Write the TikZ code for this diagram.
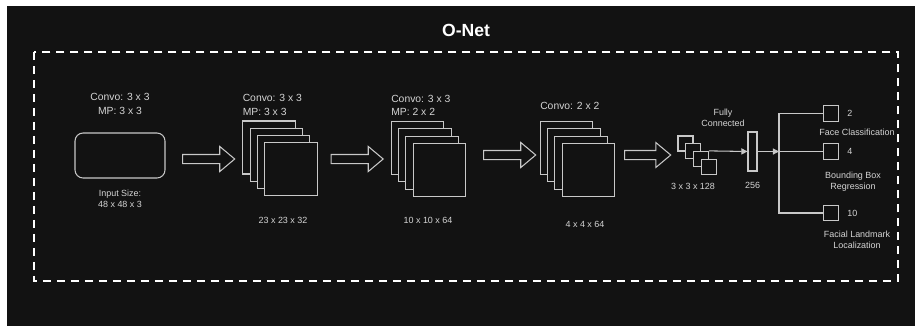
\documentclass[tikz,border=0pt]{standalone}
\usepackage{fontspec}
\setmainfont{Liberation Sans}
\usetikzlibrary{positioning,shapes.arrows,arrows.meta,calc}
\definecolor{bgdark}{HTML}{121212}
\definecolor{edge}{HTML}{C8C8C8}
\definecolor{txt}{HTML}{D4D4D4}

\begin{document}
\begin{tikzpicture}[x=0.02cm,y=-0.02cm,line width=0.6pt,
  fmap/.style={rectangle,draw=edge,fill=bgdark,minimum width=1.05cm,minimum height=1.06cm,inner sep=0pt},
  fcmap/.style={rectangle,draw=edge,fill=bgdark,minimum size=0.3cm,inner sep=0pt},
  bigarrow/.style={single arrow,draw=edge,fill=bgdark,minimum height=1.04cm,inner xsep=0pt,inner ysep=0.08cm,single arrow head extend=0.16cm,single arrow tip angle=80},
  convotext/.style={text=txt,font=\fontsize{5.9}{7.9}\selectfont,inner sep=0pt},
  sizetext/.style={text=txt,font=\fontsize{5.1}{6.5}\selectfont,align=center,inner sep=0pt},
  wire/.style={draw=edge},
  fcarrow/.style={-{Triangle[length=3.5pt,width=3.5pt]}}]

\useasboundingbox (0,0) rectangle (915,326);
\fill[white] (0,0) rectangle (915,326);
\fill[bgdark] (7,6) rectangle (915,326);

\node[text=white,font=\bfseries\fontsize{10}{12}\selectfont] (title) at (466,30) {O-Net};
\draw[white,line width=1.2pt,dash pattern=on 0.16cm off 0.12cm] (34,52) rectangle (898,281);


%%%%%%%%%%%%%%%%%%%%%% INPUT


\node[draw=edge,rounded corners=0.16cm,minimum width=1.8cm,minimum height=0.9cm] (inp) at (120,155.5) {};
\node[convotext,align=center,above=0.34cm of inp] (inpconv) {Convo: 3 x 3\\MP: 3 x 3};
\node[sizetext,below=0.22cm of inp] (inpsize) {Input Size:\\48 x 48 x 3};


%%%%%%%%%%%%%%%%%%%%%% CONVOLUTION STACKS


\node[bigarrow] (a1) at (206,159) {};
\node[bigarrow] (a2) at (354.5,159) {};
\node[bigarrow] (a3) at (507,155) {};
\node[bigarrow,minimum height=0.92cm] (a4) at (645,155) {};

\foreach \s/\x/\y in {sa/269/147.5,sb/417.5/148,sc/566.5/148}
  \foreach \i in {0,...,3}
    \node[fmap] (\s\i) at (\x+\i*7.3,\y+\i*7.3) {};

\node[convotext,align=left,above=0.09cm of sa0.north west,anchor=south west] (saconv) {Convo: 3 x 3\\MP: 3 x 3};
\node[convotext,align=left,above=0.09cm of sb0.north west,anchor=south west] (sbconv) {Convo: 3 x 3\\MP: 2 x 2};
\node[convotext,above=0.22cm of sc0.north west,anchor=south west] (scconv) {Convo: 2 x 2};

\node[sizetext] (sasize) at (283,220) {23 x 23 x 32};
\node[sizetext] (sbsize) at (428,220.5) {10 x 10 x 64};
\node[sizetext] (scsize) at (585,224) {4 x 4 x 64};


%%%%%%%%%%%%%%%%%%%%%% FULLY CONNECTED


\foreach \i in {0,...,3}
  \node[fcmap] (fc\i) at (685.5+\i*7.7,143.5+\i*7.7) {};
\node[sizetext] (fcsize) at (693,186) {3 x 3 x 128};
\node[sizetext] (fctitle) at (723,117.5) {Fully\\Connected};

\node[draw=edge,fill=bgdark,minimum width=0.18cm,minimum height=0.78cm,inner sep=0pt] (bar) at (752.5,151.5) {};
\node[sizetext,below=0.2cm of bar] (barsize) {256};

\coordinate (split) at (779,151.5);

\node[fcmap,minimum size=0.31cm] (o1) at (831,113.5) {};
\node[fcmap,minimum size=0.31cm] (o2) at (831,151.5) {};
\node[fcmap,minimum size=0.31cm] (o3) at (831,213) {};
\node[sizetext,right=0.15cm of o1] (o1n) {2};
\node[sizetext,right=0.15cm of o2] (o2n) {4};
\node[sizetext,right=0.15cm of o3] (o3n) {10};
\node[sizetext] (o1lab) at (857,132) {Face Classification};
\node[sizetext] (o2lab) at (853,181.5) {Bounding Box\\Regression};
\node[sizetext] (o3lab) at (857,239.5) {Facial Landmark\\Localization};

\draw[wire,fcarrow] (fc2.north east) -- (bar.west);
\draw[wire,fcarrow] (bar.east) -- (split);
\draw[wire] (o1.west) -| (split) |- (o3.west);
\draw[wire] (split) -- (o2.west);

\end{tikzpicture}
\end{document}
